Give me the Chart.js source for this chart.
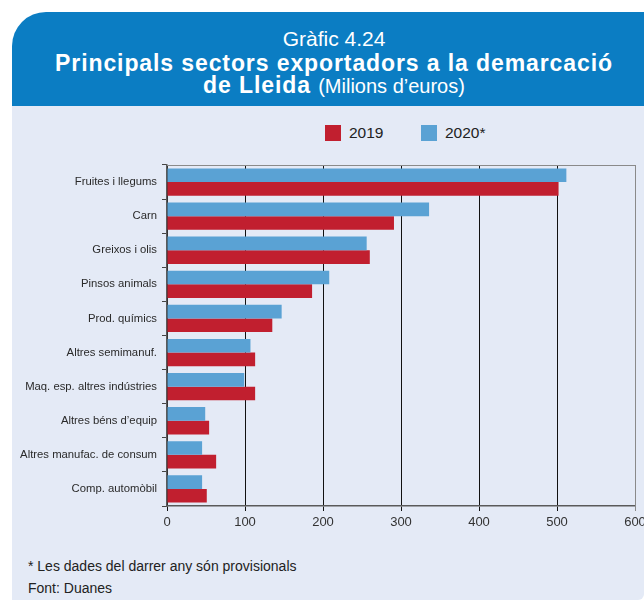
<!DOCTYPE html>
<html>
<head>
<meta charset="utf-8">
<script src="https://cdn.jsdelivr.net/npm/chart.js@4"></script>
<style>
  html, body { margin: 0; padding: 0; background: #fff; overflow: hidden; }
  body { width: 644px; height: 603px; position: relative; font-family: "Liberation Sans", Arial, sans-serif; }
  .card { position: absolute; left: 12px; top: 12px; width: 644px; height: 588px; }
  .head {
    position: absolute; left: 0; top: 0; width: 644px; height: 94px;
    background: #0b7dc3; border-top-left-radius: 34px; color: #fff; text-align: center;
  }
  .head .l1 { position: absolute; left: 0; right: 0; top: 15px; font-size: 21px; line-height: 24px; }
  .head .l2 { position: absolute; left: 0; right: 0; top: 39px; font-size: 23px; line-height: 24px; font-weight: bold; letter-spacing: 0.9px; }
  .head .l3 { position: absolute; left: 0; right: 0; top: 61px; font-size: 23px; line-height: 24px; font-weight: bold; letter-spacing: 0.9px; }
  .head .l3 span { font-weight: normal; font-size: 20px; letter-spacing: 0; }
  .panel {
    position: absolute; left: 0; top: 94px; width: 632px; height: 494px;
    background: #e4eaf6; border-bottom-right-radius: 6px; overflow: hidden;
  }
  #legend { position: absolute; left: 313px; top: 19px; font-size: 15.5px; color: #222; }
  #legend .it { position: absolute; top: 0; white-space: nowrap; line-height: 16px; }
  #legend .sw { display: inline-block; width: 16px; height: 16px; vertical-align: -3px; margin-right: 8px; }
  canvas { position: absolute; left: 0; top: 0; }
  .note { position: absolute; left: 16px; font-size: 14px; color: #222; }
</style>
</head>
<body>
<div class="card">
  <div class="head">
    <div class="l1">Gràfic 4.24</div>
    <div class="l2">Principals sectors exportadors a la demarcació</div>
    <div class="l3">de Lleida <span>(Milions d’euros)</span></div>
  </div>
  <div class="panel">
    <div id="legend"></div>
    <canvas id="chart" width="644" height="430"></canvas>
    <div class="note" style="top:452px">* Les dades del darrer any són provisionals</div>
    <div class="note" style="top:474px">Font: Duanes</div>
  </div>
</div>
<script>
const sectors = [
  'Fruites i llegums', 'Carn', 'Greixos i olis', 'Pinsos animals', 'Prod. químics',
  'Altres semimanuf.', 'Maq. esp. altres indústries', "Altres béns d’equip",
  'Altres manufac. de consum', 'Comp. automòbil'
];
const exports2019 = [502, 291, 260, 186, 135, 113, 113, 54, 63, 51];
const exports2020 = [512, 336, 256, 208, 147, 107, 99, 49, 45, 45];
const xTicks = [0, 100, 200, 300, 400, 500, 600];

const RED = '#c11f2f';
const BLUE = '#5aa2d4';
const sans = '"Liberation Sans", Arial, sans-serif';

// legend (2019 first, as in the original)
const legendItems = [['2019', RED, 0], ['2020*', BLUE, 96]];
document.getElementById('legend').innerHTML = legendItems.map(([label, color, x]) =>
  `<div class="it" style="left:${x}px"><span class="sw" style="background:${color}"></span>${label}</div>`
).join('');

// light frame on top and right of the plot
const frame = {
  id: 'frame',
  afterDraw(chart) {
    const { ctx, chartArea: a } = chart;
    ctx.save();
    ctx.strokeStyle = '#8a8a8a';
    ctx.lineWidth = 1;
    ctx.beginPath();
    ctx.moveTo(a.left, a.top + 0.5);
    ctx.lineTo(a.right + 0.5, a.top + 0.5);
    ctx.lineTo(a.right + 0.5, a.bottom);
    ctx.stroke();
    ctx.restore();
  }
};

new Chart(document.getElementById('chart'), {
  type: 'bar',
  data: {
    labels: sectors,
    datasets: [
      { label: '2020*', data: exports2020, backgroundColor: BLUE },
      { label: '2019', data: exports2019, backgroundColor: RED },
    ],
  },
  options: {
    indexAxis: 'y',
    responsive: false,
    devicePixelRatio: 1,
    animation: false,
    categoryPercentage: 0.8,
    barPercentage: 1.0,
    layout: { padding: { top: 59, right: 21, bottom: 0, left: 0 } },
    plugins: { legend: { display: false }, tooltip: { enabled: false } },
    scales: {
      x: {
        min: 0,
        max: 600,
        afterFit: (s) => { s.height = 30; },
        afterBuildTicks: (s) => { s.ticks = xTicks.map(v => ({ value: v })); },
        grid: {
          color: (c) => c.index === 6 ? '#8a8a8a' : '#111',
          lineWidth: 1,
          tickLength: 5,
        },
        border: { color: '#5a5a5a', width: 1.5 },
        ticks: { color: '#333', font: { family: sans, size: 13 }, padding: 4 },
      },
      y: {
        afterFit: (s) => { s.width = 155; },
        grid: { drawOnChartArea: false, tickLength: 5, color: '#444' },
        border: { color: '#5a5a5a', width: 1.5 },
        ticks: { color: '#2a2a2a', font: { family: sans, size: 11.3 }, padding: 5 },
      },
    },
  },
  plugins: [frame],
});
</script>
</body>
</html>
